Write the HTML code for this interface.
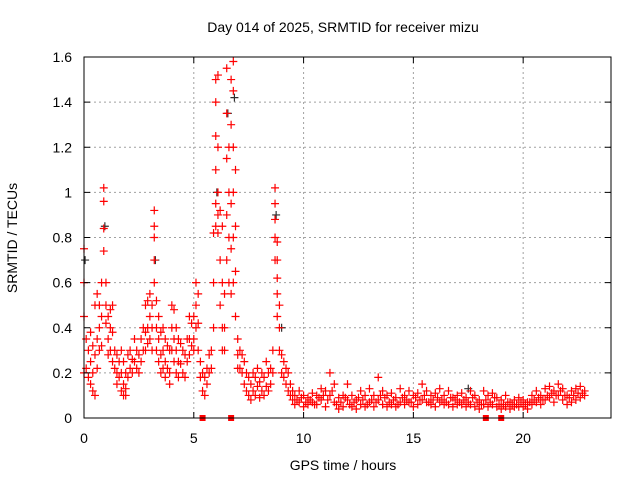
<!DOCTYPE html>
<html><head><meta charset="utf-8"><style>
body{margin:0;background:#fff;}
svg{display:block;font-family:"Liberation Sans",sans-serif;}
</style></head><body>
<svg id="chart" width="640" height="480">
<rect width="640" height="480" fill="#fff"/>
<g id="grid"></g>
<g id="blackpts"></g>
<g id="redpts"></g>
<g id="squares"></g>
<rect x="84" y="57" width="527" height="361" fill="none" stroke="#000" stroke-width="1"/>
<g id="ticks"></g>
<text x="343" y="32" text-anchor="middle" font-size="14">Day 014 of 2025, SRMTID for receiver mizu</text>
<text x="343" y="470" text-anchor="middle" font-size="14">GPS time / hours</text>
<text transform="translate(17,238) rotate(-90)" text-anchor="middle" font-size="14">SRMTID / TECUs</text>
</svg>
<script>
const xTicks=[0,5,10,15,20];
const yTicks=[0,0.2,0.4,0.6,0.8,1,1.2,1.4,1.6];
const yTickLabels=["0","0.2","0.4","0.6","0.8","1","1.2","1.4","1.6"];
const times=[0,0.1,0.2,0.3,0.4,0.5,0.6,0.7,0.8,0.9,1.0,1.1,1.2,1.3,1.4,1.5,1.6,1.7,1.8,1.9,2.0,2.1,2.2,2.3,2.4,2.5,2.6,2.7,2.8,2.9,3.0,3.1,3.2,3.3,3.4,3.5,3.6,3.7,3.8,3.9,4.0,4.1,4.2,4.3,4.4,4.5,4.6,4.7,4.8,4.9,5.0,5.1,5.2,5.3,5.4,5.5,5.6,5.7,5.8,5.9,6.0,6.1,6.2,6.3,6.4,6.5,6.6,6.7,6.8,6.9,7.0,7.1,7.2,7.3,7.4,7.5,7.6,7.7,7.8,7.9,8.0,8.1,8.2,8.3,8.4,8.5,8.6,8.7,8.8,8.9,9.0,9.1,9.2,9.3,9.4,9.5,
9.6,9.8,10.0,10.2,10.4,10.6,10.8,11.0,11.2,11.4,11.6,11.8,12.0,12.2,12.4,12.6,12.8,13.0,13.2,13.4,13.6,13.8,14.0,14.2,14.4,14.6,14.8,15.0,15.2,15.4,15.6,15.8,16.0,16.2,16.4,16.6,16.8,17.0,17.2,17.4,17.6,17.8,18.0,18.2,18.4,18.6,18.8,19.0,19.2,19.4,19.6,19.8,20.0,20.2,20.4,20.6,20.8,21.0,21.2,21.4,21.6,21.8,22.0,22.2,22.4,22.6,22.8];
const values=[[.75,.6,.45,.2],[.35,.22],[.3,.18],[.38,.25,.15],[.32,.2,.12],[.5,.28,.1],[.55,.35,.22],[.5,.4,.3],[.6,.45,.32],[1.02,.96,.84,.74],[.6,.5,.42],[.45,.35,.28],[.48,.4,.3],[.5,.38,.25],[.3,.22],[.28,.2,.15],[.25,.18],[.3,.2,.12],[.25,.15,.1],[.2,.13,.1],[.28,.18],[.3,.22],[.26,.2],[.35,.25],[.3,.22],[.28,.2],[.35,.25],[.4,.3],[.5,.38,.3],[.52,.4,.33],[.55,.45,.35],[.5,.4,.3],[.92,.85,.8,.7,.6],[.52,.4,.3],[.45,.35,.25],[.38,.28,.2],[.4,.3,.22],[.35,.25,.18],[.32,.22],[.3,.2,.15],[.5,.4,.3],[.48,.35,.25],[.4,.3,.2],[.35,.25,.18],[.33,.24],[.3,.2],[.28,.18],[.35,.25],[.45,.35,.28],[.42,.32],[.45,.35,.3],[.6,.5,.4],[.55,.42,.3],[.25,.18],[.2,.12],[.18,.1],[.22,.15],[.28,.2],[.3,.22],[.82,.6,.4],[1.5,1.4,1.25,1.1,.95,.85],[1.52,1.2,1.0,.9,.82],[.92,.7,.5],[.85,.6,.4,.3],[.55,.4,.3],[1.55,1.35,1.15,.9,.7],[1.2,1.0,.8,.6],[1.5,1.3,.95,.75,.55],[1.58,1.45,1.2,1.0,.8,.6],[1.1,.85,.65,.45],[.35,.28,.22],[.3,.22],[.28,.2],[.25,.15],[.2,.12],[.18,.1],[.15,.08],[.2,.12],[.18,.1],[.22,.14],[.16,.09],[.2,.12],[.18,.1],[.25,.14],[.2,.12],[.22,.15],[.3,.2],[1.02,.95,.88,.8,.7],[.78,.7,.62,.55,.45],[.5,.4,.3],[.28,.2],[.25,.18],[.22,.15],[.2,.12],[.15,.1],[.12,.08],
[.1,.06],[.12,.07],[.1,.05],[.09,.06],[.11,.07],[.1,.06],[.13,.08],[.12,.05],[.2,.1],[.15,.07],[.09,.04],[.1,.05],[.15,.08],[.1,.05],[.08,.04],[.12,.06],[.1,.05],[.13,.07],[.1,.05],[.18,.08],[.12,.06],[.1,.05],[.11,.06],[.09,.05],[.13,.07],[.1,.06],[.12,.07],[.1,.05],[.11,.06],[.15,.08],[.12,.07],[.1,.06],[.11,.05],[.13,.07],[.1,.06],[.12,.06],[.09,.05],[.1,.06],[.11,.06],[.09,.05],[.12,.06],[.1,.05],[.08,.04],[.12,.06],[.1,.05],[.11,.06],[.09,.05],[.08,.04],[.1,.05],[.07,.04],[.08,.05],[.09,.05],[.08,.05],[.07,.04],[.1,.06],[.12,.07],[.1,.06],[.13,.08],[.14,.09],[.12,.07],[.15,.1],[.13,.08],[.1,.06],[.12,.07],[.13,.08],[.14,.09],[.12,.1]];
const tailTimes=[9.7,9.9,10.1,10.3,10.5,10.7,10.9,11.1,11.3,11.5,11.7,11.9,12.1,12.3,12.5,12.7,12.9,13.1,13.3,13.5,13.7,13.9,14.1,14.3,14.5,14.7,14.9,15.1,15.3,15.5,15.7,15.9,16.1,16.3,16.5,16.7,16.9,17.1,17.3,17.5,17.7,17.9,18.1,18.3,18.5,18.7,18.9,19.1,19.3,19.5,19.7,19.9,20.1,20.3,20.5,20.7,20.9,21.1,21.3,21.5,21.7,21.9,22.1,22.3,22.5,22.7];
const tailValues=[.08,.09,.07,.08,.06,.09,.1,.08,.12,.06,.07,.09,.06,.07,.09,.08,.06,.08,.07,.1,.09,.07,.08,.06,.09,.08,.07,.09,.08,.1,.07,.08,.09,.08,.07,.09,.08,.07,.08,.07,.09,.07,.06,.08,.07,.09,.06,.06,.07,.06,.06,.07,.06,.07,.08,.09,.08,.1,.11,.1,.12,.1,.09,.1,.11,.11];
const blackTimes=[0.05,0.95,3.25,6.05,6.55,6.85,8.75,9.0,17.5];
const blackValues=[0.7,0.85,0.7,1.0,1.35,1.42,0.9,0.4,0.13];
const squareTimes=[5.4,6.7,18.3,19.0];
const NS="http://www.w3.org/2000/svg";
const X0=84,X1=611,Y0=418,Y1=57;
function sx(t){return X0+t*(X1-X0)/24;}
function sy(v){return Y0-v*(Y0-Y1)/1.6;}
function mk(tag,attrs,parent){const e=document.createElementNS(NS,tag);for(const k in attrs)e.setAttribute(k,attrs[k]);parent.appendChild(e);return e;}
const grid=document.getElementById('grid'),ticks=document.getElementById('ticks');
yTicks.forEach((v,i)=>{const y=sy(v);
 if(i>0&&i<yTicks.length-1){const l=mk('line',{x1:X0,x2:X1,y1:y,y2:y,stroke:'#a0a0a0','stroke-dasharray':'2,3'},grid);
 
 }
 mk('line',{x1:X0,x2:X0+6,y1:y,y2:y,stroke:'#000'},ticks);
 mk('line',{x1:X1-6,x2:X1,y1:y,y2:y,stroke:'#000'},ticks);
 const tx=mk('text',{x:72,y:y+5,'text-anchor':'end','font-size':'14'},ticks);tx.textContent=yTickLabels[i];
 
 
});
xTicks.forEach(t=>{const x=sx(t);
 if(t>0){const l=mk('line',{x1:x,x2:x,y1:Y1,y2:Y0,stroke:'#a0a0a0','stroke-dasharray':'2,3'},grid);
 
 }
 mk('line',{x1:x,x2:x,y1:Y0,y2:Y0-6,stroke:'#000'},ticks);
 mk('line',{x1:x,x2:x,y1:Y1,y2:Y1+6,stroke:'#000'},ticks);
 const tx=mk('text',{x:x,y:443,'text-anchor':'middle','font-size':'14'},ticks);tx.textContent=String(t);
 
 
});
function plus(g,t,v,c){const x=sx(t),y=sy(v);
 const p=mk('path',{d:`M${x-4},${y}h8M${x},${y-4}v8`,stroke:c,'stroke-width':'1.2',fill:'none'},g);
 
 }
const bg=document.getElementById('blackpts');
blackTimes.forEach((t,i)=>plus(bg,t,blackValues[i],'#303030'));
const rg=document.getElementById('redpts');
times.forEach((t,i)=>values[i].forEach(v=>plus(rg,t,v,'#ff0000')));
tailTimes.forEach((t,i)=>plus(rg,t,tailValues[i],'#ff0000'));
const sq=document.getElementById('squares');
squareTimes.forEach(t=>{const r=mk('rect',{x:sx(t)-3,y:Y0-3,width:6,height:6,fill:'#ff0000'},sq);
 
 });
</script>
</body></html>
